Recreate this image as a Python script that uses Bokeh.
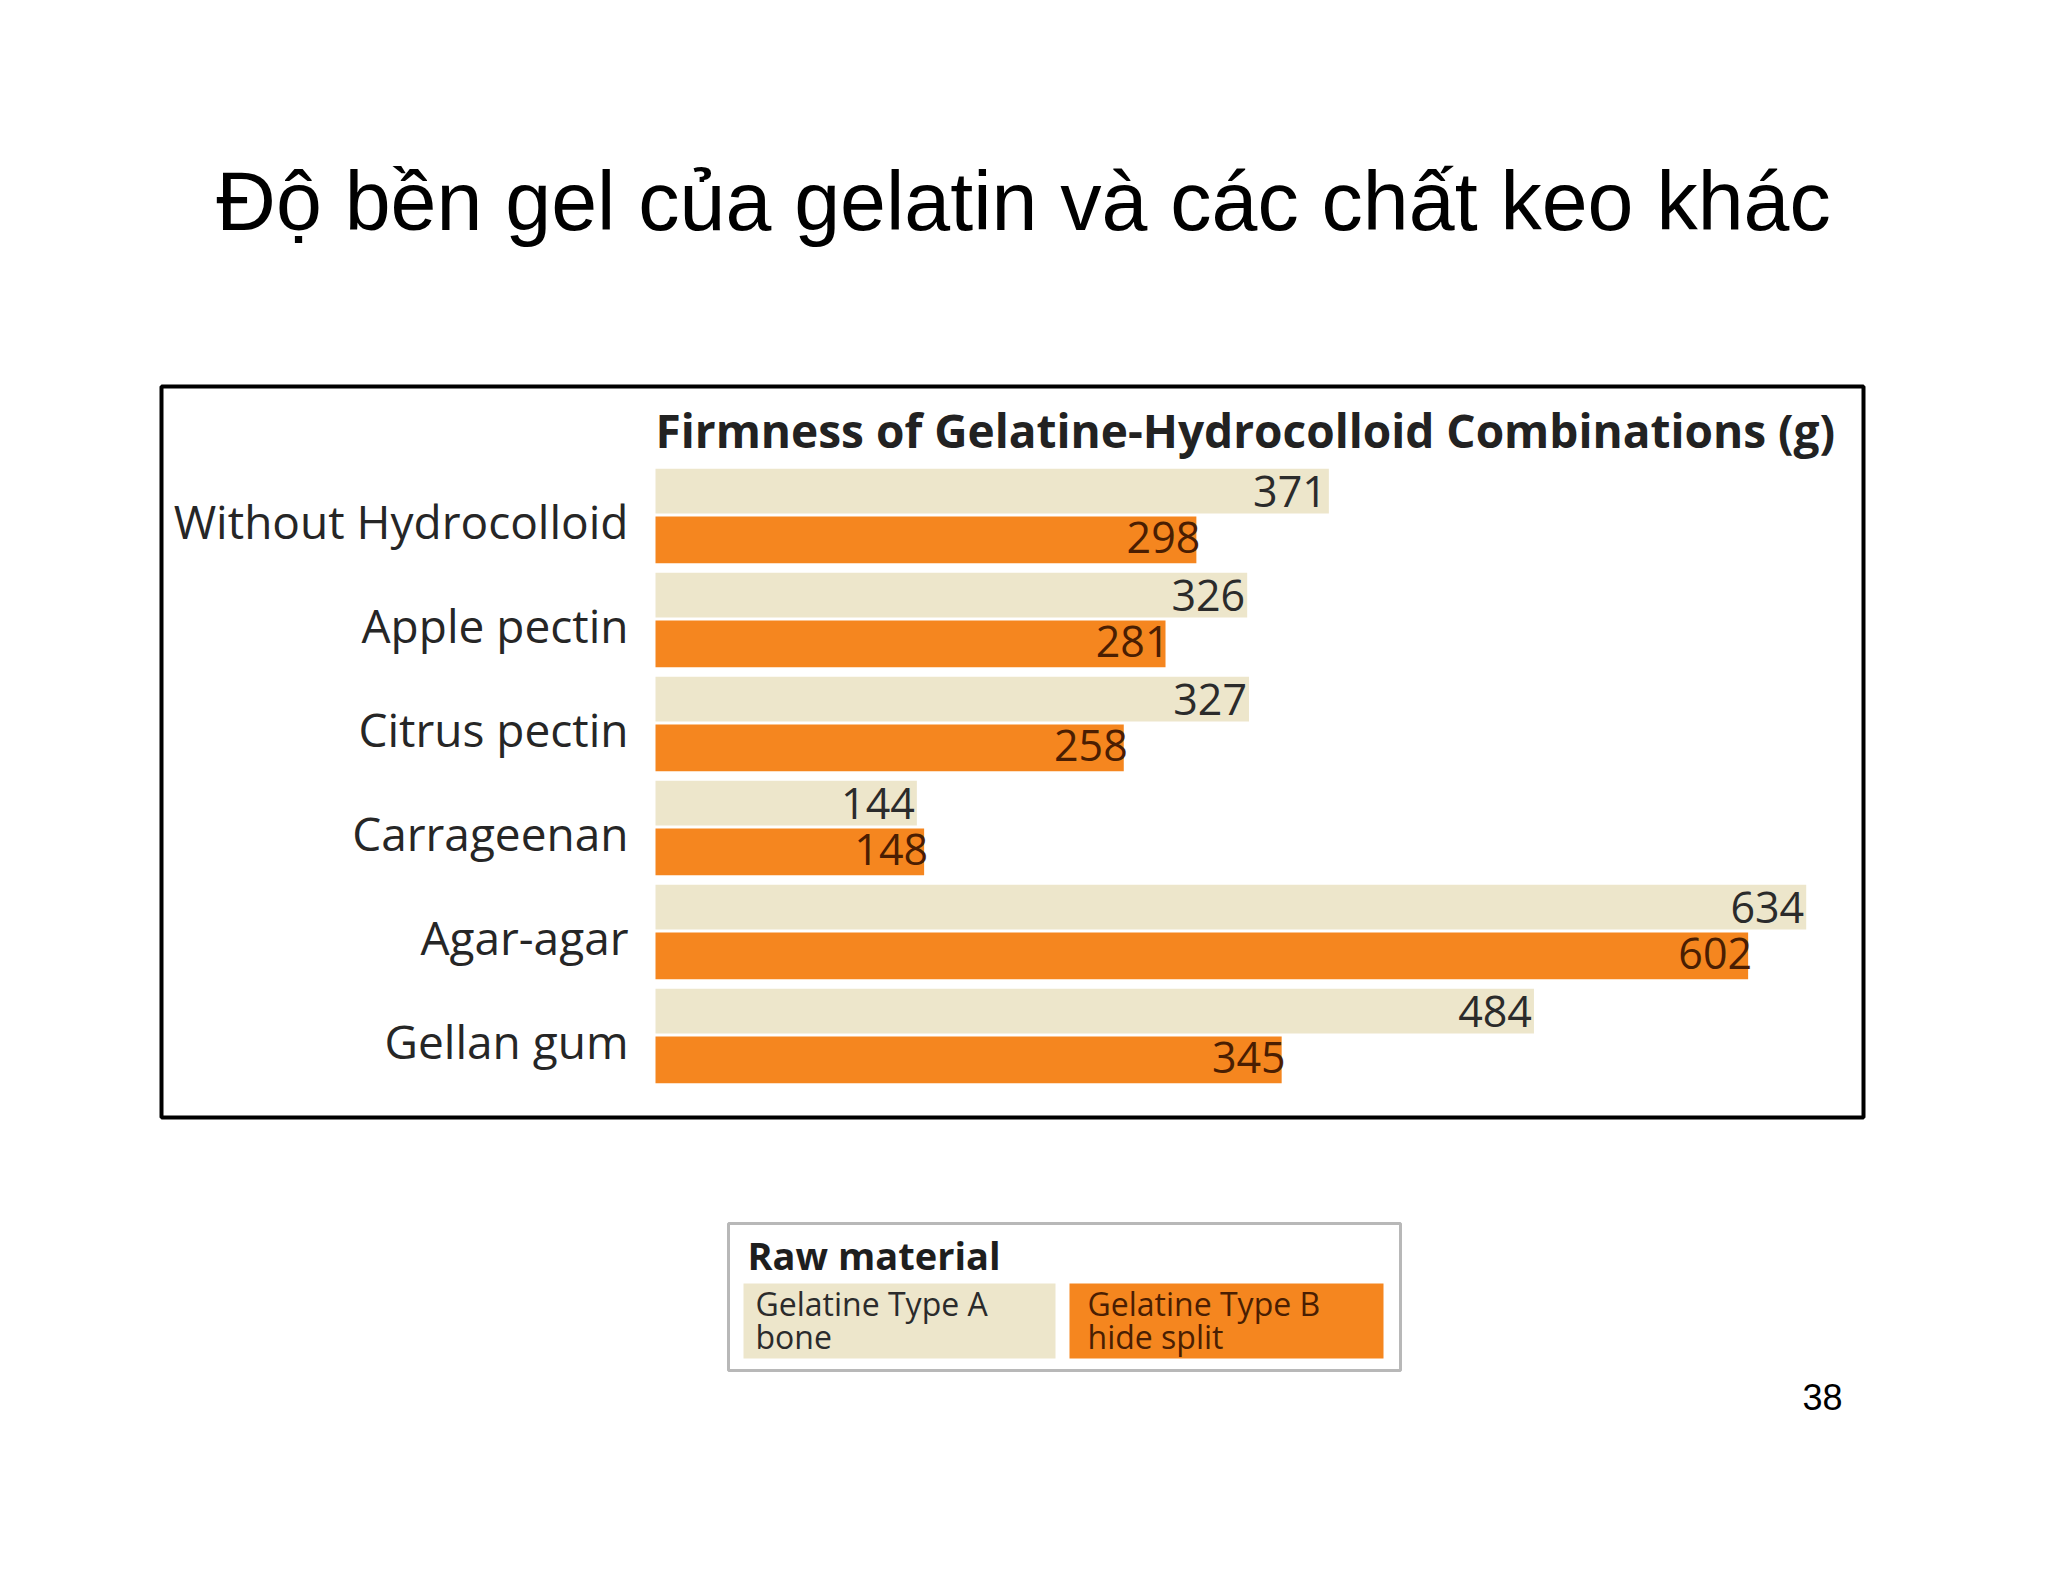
from bokeh.plotting import figure
from bokeh.models import Range1d, ColumnDataSource, Label
from bokeh.transform import dodge
from bokeh.core.properties import value
from bokeh.embed import file_html
from bokeh.resources import INLINE

# data
categories = ["Without Hydrocolloid", "Apple pectin", "Citrus pectin",
              "Carrageenan", "Agar-agar", "Gellan gum"]
type_a = [371, 326, 327, 144, 634, 484]   # Gelatine Type A, bone
type_b = [298, 281, 258, 148, 602, 345]   # Gelatine Type B, hide split

slide_title = "Độ bền gel của gelatin và các chất keo khác"
chart_title = "Firmness of Gelatine-Hydrocolloid Combinations (g)"
legend_title = "Raw material"
legend_a = ["Gelatine Type A", "bone"]
legend_b = ["Gelatine Type B", "hide split"]
page_no = "38"

BEIGE = "#ede6cb"
ORANGE = "#f5861f"
FONT = "Open Sans"

W, H = 2032, 1566
K = 1.815      # pixels per gram
PITCH = 104    # pixels per category row


# page pixel -> data helpers (for the decorations around the chart)
def dx(px):
    return (px - 655) / K


def dy(py):
    return (py - 515) / PITCH


p = figure(width=W, height=H,
           x_range=Range1d(dx(0), dx(W)),
           y_range=Range1d(dy(H), dy(0)),
           x_axis_type=None, y_axis_type=None,
           toolbar_location=None, output_backend="svg",
           min_border=0, outline_line_color=None,
           background_fill_color="white", border_fill_color="white")
p.grid.visible = False

src = ColumnDataSource(dict(
    cat=categories,
    idx=list(range(len(categories))),
    a=type_a,
    b=type_b,
    a_txt=[str(v) for v in type_a],
    b_txt=[str(v) for v in type_b],
))

# frame around the chart
p.quad(left=dx(161), right=dx(1863), top=dy(386), bottom=dy(1117),
       fill_color=None, line_color="black", line_width=4)

p.hbar(y=dodge("idx", -0.235), left=0, right="a", height=0.43, source=src,
       fill_color=BEIGE, line_color=None)
p.hbar(y=dodge("idx", 0.235), left=0, right="b", height=0.45, source=src,
       fill_color=ORANGE, line_color=None)

p.text(x="a", y=dodge("idx", -0.235), text="a_txt", source=src,
       x_offset=-2, y_offset=0, text_align="right", text_baseline="middle",
       text_font=value(FONT), text_font_size="43px", text_color="#2b2b2b")
p.text(x="b", y=dodge("idx", 0.235), text="b_txt", source=src,
       x_offset=4, y_offset=-2, text_align="right", text_baseline="middle",
       text_font=value(FONT), text_font_size="43px", text_color="#4a1e02")

p.text(x=0, y="idx", text="cat", source=src,
       x_offset=-27, y_offset=5, text_align="right", text_baseline="middle",
       text_font=value(FONT), text_font_size="46px", text_color="#262626")

p.add_layout(Label(x=dx(1023), y=dy(200), text=slide_title,
                   text_align="center", text_baseline="middle",
                   text_font="Liberation Sans", text_font_size="82.5px",
                   text_color="black"))
p.add_layout(Label(x=0, y=dy(429), text=chart_title,
                   text_align="left", text_baseline="middle",
                   text_font=FONT, text_font_style="bold", text_font_size="46px",
                   text_color="#222222"))

# legend box
p.quad(left=dx(728), right=dx(1400), top=dy(1223), bottom=dy(1370),
       fill_color="white", line_color="#b8b8b8", line_width=3)
p.quad(left=dx(743), right=dx(1055), top=dy(1283), bottom=dy(1358),
       fill_color=BEIGE, line_color=None)
p.quad(left=dx(1069), right=dx(1383), top=dy(1283), bottom=dy(1358),
       fill_color=ORANGE, line_color=None)
p.add_layout(Label(x=dx(747), y=dy(1254), text=legend_title,
                   text_align="left", text_baseline="middle",
                   text_font=FONT, text_font_style="bold", text_font_size="38px",
                   text_color="#1e1e1e"))
for i, line in enumerate(legend_a):
    p.add_layout(Label(x=dx(755), y=dy(1303 + 33 * i), text=line,
                       text_align="left", text_baseline="middle",
                       text_font=FONT, text_font_size="32px", text_color="#2b2b2b"))
for i, line in enumerate(legend_b):
    p.add_layout(Label(x=dx(1087), y=dy(1303 + 33 * i), text=line,
                       text_align="left", text_baseline="middle",
                       text_font=FONT, text_font_size="32px", text_color="#4a1e02"))

p.add_layout(Label(x=dx(1842), y=dy(1396), text=page_no,
                   text_align="right", text_baseline="middle",
                   text_font="Liberation Sans", text_font_size="36px",
                   text_color="black"))

open("out.html", "w", encoding="utf-8").write(file_html(p, INLINE))
